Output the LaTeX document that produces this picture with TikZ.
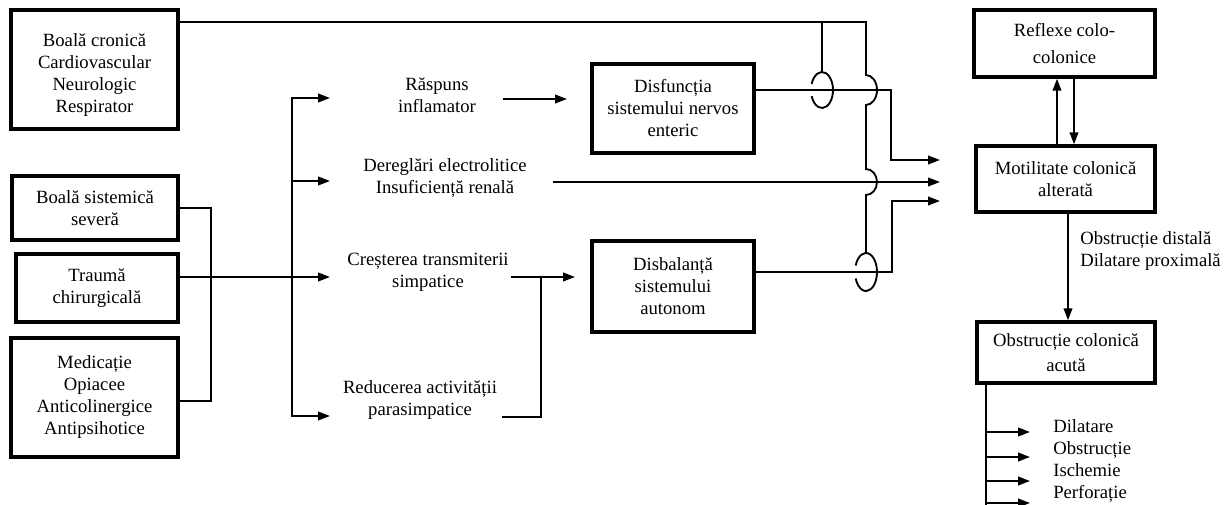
\documentclass[tikz,border=0pt]{standalone}
\usepackage{fontspec}
\setmainfont{Liberation Serif}
\usetikzlibrary{arrows.meta}
\newdimen\pxu \pxu=0.75pt
\newcommand\dfont{\fontsize{14pt}{16.5pt}\selectfont}
\begin{document}
\begin{tikzpicture}[x=0.75pt,y=-0.75pt,
  box/.style={draw, line width=2.6pt, align=center, inner sep=0pt, font=\dfont},
  lbl/.style={align=center, inner sep=0pt, font=\dfont},
  conn/.style={line width=1.4pt},
  arr/.style={conn, -{Triangle[length=9pt,width=6.5pt]}}]
\useasboundingbox (0,0) rectangle (1226,505);
\clip (0,0) rectangle (1226,505);

% boxes
\node[box, minimum width=167\pxu, minimum height=119\pxu] (b1) at (94.5,69.5) {\rule{0pt}{17.5pt}Boală cronică\\Cardiovascular\\Neurologic\\Respirator};
\node[box, minimum width=166\pxu, minimum height=64\pxu] (b2) at (95,208) {Boală sistemică\\severă};
\node[box, minimum width=162\pxu, minimum height=68\pxu] (b3) at (97,288) {Traumă\\chirurgicală};
\node[box, minimum width=167\pxu, minimum height=119\pxu] (b4) at (94.5,397.5) {Medicație\\Opiacee\\Anticolinergice\\Antipsihotice};
\node[box, minimum width=162\pxu, minimum height=89\pxu] (d1) at (673,108.5) {Disfuncția\\sistemului nervos\\enteric};
\node[box, minimum width=162\pxu, minimum height=91\pxu] (d2) at (673,286.5) {Disbalanță\\sistemului\\autonom};
\node[box, minimum width=181\pxu, minimum height=67\pxu] (ref) at (1064.5,43.5) {Reflexe colo-\\[4pt]colonice};
\node[box, minimum width=179\pxu, minimum height=66\pxu] (mot) at (1065.5,179) {Motilitate colonică\\alterată};
\node[box, minimum width=178\pxu, minimum height=61\pxu] (obs) at (1066,352.5) {Obstrucție colonică\\[2pt]acută};

% free labels
\node[lbl] (ras) at (437,95) {Răspuns\\inflamator};
\node[lbl] (der) at (445,178) {Dereglări electrolitice\\Insuficiență renală};
\node[lbl] (cre) at (428,272) {Creșterea transmiterii\\simpatice};
\node[lbl] (red) at (420,400) {Reducerea activității\\parasimpatice};
\node[lbl, align=left, anchor=west] (obd) at (1080,251) {Obstrucție distală\\Dilatare proximală};
\node[lbl, align=left, anchor=west] (cpl) at (1053,461) {Dilatare\\Obstrucție\\Ischemie\\Perforație};

% helper coordinates
\coordinate (hA) at (0,22);
\coordinate (hD) at (0,90);
\coordinate (hS) at (0,272);
\coordinate (hT) at (0,277);
\coordinate (hR) at (0,401);
\coordinate (xU) at (1057,0);
\coordinate (xD) at (1074,0);
\coordinate (xM) at (1068,0);
\coordinate (xL) at (986,0);
\coordinate (rasW) at (330,98);
\coordinate (derW) at (330,181);
\coordinate (creW) at (330,277);
\coordinate (redW) at (330,416);
\coordinate (rasE) at (503,99);
\coordinate (derE) at (553,182);
\coordinate (creE) at (511,277);
\coordinate (redE) at (502,417);
\coordinate (d1in) at (567,99);
\coordinate (d2in) at (575,277);
\coordinate (a1) at (940,160);
\coordinate (a2) at (940,182);
\coordinate (a3) at (940,201);

% left side
\draw[conn] (b2.east) -- (211,208) -- (211,401) -- (b4.east |- hR);
\draw[arr] (b3.east |- hT) -- (creW);
\draw[conn, {Triangle[length=9pt,width=6.5pt]}-{Triangle[length=9pt,width=6.5pt]}] (rasW) -- (292,98) -- (292,416) -- (redW);
\draw[arr] (292,181) -- (derW);

% middle
\draw[arr] (rasE) -- (d1in);
\draw[arr] (creE) -- (d2in);
\draw[conn] (541,277) -- (541,417) -- (redE);

% outputs to motility
\draw[arr] (d1.east |- hD) -- (891,90) -- (891,160) -- (a1);
\draw[arr] (derE) -- (a2);
\draw[arr] (d2.east |- hS) -- (892,272) -- (892,201) -- (a3);

% chronic disease line with jumps and loops
\draw[conn] (b1.east |- hA) -- (866,22) -- (866,75)
   arc[start angle=-90,end angle=90,x radius=11,y radius=15] -- (866,169)
   arc[start angle=-90,end angle=90,x radius=11,y radius=13] -- (866,253);
\draw[conn] (822,22) -- (822,72);
\draw[conn] (822,90) ++(200:11 and 18) arc[start angle=200,end angle=520,x radius=11,y radius=18];
\draw[conn] (866,272) ++(200:11 and 19) arc[start angle=200,end angle=520,x radius=11,y radius=19];

% right column
\draw[arr] (mot.north -| xU) -- (ref.south -| xU);
\draw[arr] (ref.south -| xD) -- (mot.north -| xD);
\draw[arr] (mot.south -| xM) -- (obs.north -| xM);
\draw[conn] (obs.south -| xL) -- (986,512);
\coordinate (c1) at (1030,432);
\coordinate (c2) at (1030,457);
\coordinate (c3) at (1030,481);
\coordinate (c4) at (1030,503);
\draw[arr] (c1 -| xL) -- (c1);
\draw[arr] (c2 -| xL) -- (c2);
\draw[arr] (c3 -| xL) -- (c3);
\draw[arr] (c4 -| xL) -- (c4);
\end{tikzpicture}
\end{document}
